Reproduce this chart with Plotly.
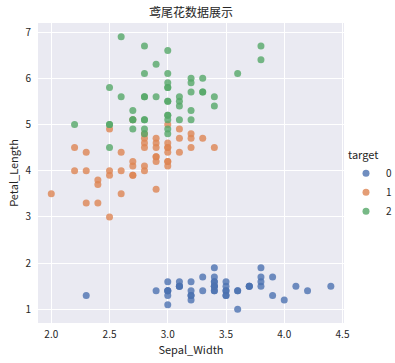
import plotly.graph_objects as go

sepal_width_0 = [3.5,3.0,3.2,3.1,3.6,3.9,3.4,3.4,2.9,3.1,3.7,3.4,3.0,3.0,4.0,4.4,3.9,3.5,3.8,3.8,
                 3.4,3.7,3.6,3.3,3.4,3.0,3.4,3.5,3.4,3.2,3.1,3.4,4.1,4.2,3.1,3.2,3.5,3.6,3.0,3.4,
                 3.5,2.3,3.2,3.5,3.8,3.0,3.8,3.2,3.7,3.3]
petal_length_0 = [1.4,1.4,1.3,1.5,1.4,1.7,1.4,1.5,1.4,1.5,1.5,1.6,1.4,1.1,1.2,1.5,1.3,1.4,1.7,1.5,
                  1.7,1.5,1.0,1.7,1.9,1.6,1.6,1.5,1.4,1.6,1.6,1.5,1.5,1.4,1.5,1.2,1.3,1.4,1.3,1.5,
                  1.3,1.3,1.3,1.6,1.9,1.4,1.6,1.4,1.5,1.4]
sepal_width_1 = [3.2,3.2,3.1,2.3,2.8,2.8,3.3,2.4,2.9,2.7,2.0,3.0,2.2,2.9,2.9,3.1,3.0,2.7,2.2,2.5,
                 3.2,2.8,2.5,2.8,2.9,3.0,2.8,3.0,2.9,2.6,2.4,2.4,2.7,2.7,3.0,3.4,3.1,2.3,3.0,2.5,
                 2.6,3.0,2.6,2.3,2.7,3.0,2.9,2.9,2.5,2.8]
petal_length_1 = [4.7,4.5,4.9,4.0,4.6,4.5,4.7,3.3,4.6,3.9,3.5,4.2,4.0,4.7,3.6,4.4,4.5,4.1,4.5,3.9,
                  4.8,4.0,4.9,4.7,4.3,4.4,4.8,5.0,4.5,3.5,3.8,3.7,3.9,5.1,4.5,4.5,4.7,4.4,4.1,4.0,
                  4.4,4.6,4.0,3.3,4.2,4.2,4.2,4.3,3.0,4.1]
sepal_width_2 = [3.3,2.7,3.0,2.9,3.0,3.0,2.5,2.9,2.5,3.6,3.2,2.7,3.0,2.5,2.8,3.2,3.0,3.8,2.6,2.2,
                 3.2,2.8,2.8,2.7,3.3,3.2,2.8,3.0,2.8,3.0,2.8,3.8,2.8,2.8,2.6,3.0,3.4,3.1,3.0,3.1,
                 3.1,3.1,2.7,3.2,3.3,3.0,2.5,3.0,3.4,3.0]
petal_length_2 = [6.0,5.1,5.9,5.6,5.8,6.6,4.5,6.3,5.8,6.1,5.1,5.3,5.5,5.0,5.1,5.3,5.5,6.7,6.9,5.0,
                  5.7,4.9,6.7,4.9,5.7,6.0,4.8,4.9,5.6,5.8,6.1,6.4,5.6,5.1,5.6,6.1,5.6,5.5,4.8,5.4,
                  5.6,5.1,5.1,5.9,5.7,5.2,5.0,5.2,5.4,5.1]

targets = ["0", "1", "2"]
colors = ["#4C72B0", "#DD8452", "#55A868"]
xs = [sepal_width_0, sepal_width_1, sepal_width_2]
ys = [petal_length_0, petal_length_1, petal_length_2]

FONT = "Noto Sans CJK SC"

fig = go.Figure()
for t, c, x, y in zip(targets, colors, xs, ys):
    fig.add_trace(go.Scatter(x=x, y=y, mode="markers", name=t,
                             marker=dict(color=c, size=7, opacity=0.8, line=dict(width=0))))

fig.update_layout(
    width=395, height=363,
    margin=dict(l=38, r=51, t=23, b=40),
    paper_bgcolor="white", plot_bgcolor="#EAEAF2",
    font=dict(family=FONT, size=10, color="#262626"),
    title=dict(text="鸢尾花数据展示", x=0.5, xref="paper", xanchor="center",
               y=1 - 13 / 363, yanchor="middle", pad=dict(t=0, b=0),
               font=dict(size=12, color="#262626")),
    xaxis=dict(range=[1.886, 4.513], tickvals=[2.0, 2.5, 3.0, 3.5, 4.0, 4.5],
               ticktext=["2.0", "2.5", "3.0", "3.5", "4.0", "4.5"], automargin=False,
               showgrid=True, gridcolor="white", gridwidth=1, zeroline=False,
               showline=False, ticks="", ticklabelstandoff=4,
               title=dict(text="Sepal_Width", standoff=3, font=dict(size=11))),
    yaxis=dict(range=[0.705, 7.195], tickvals=[1, 2, 3, 4, 5, 6, 7], automargin=False,
               showgrid=True, gridcolor="white", gridwidth=1, zeroline=False,
               showline=False, ticks="", ticklabelstandoff=6,
               title=dict(text="Petal_Length", standoff=4, font=dict(size=11))),
    legend=dict(title=dict(text="target", font=dict(size=11)),
                xref="container", yref="container", x=346 / 395, xanchor="left",
                y=1 - 185.5 / 363, yanchor="middle", bgcolor="rgba(0,0,0,0)",
                font=dict(size=10), itemsizing="trace", tracegroupgap=0, itemwidth=30),
    showlegend=True,
)

fig.write_html("out.html", config={"displayModeBar": False},
               post_script="document.documentElement.style.margin='0';"
                           "document.body.style.margin='0';"
                           "document.body.style.overflow='hidden';")
